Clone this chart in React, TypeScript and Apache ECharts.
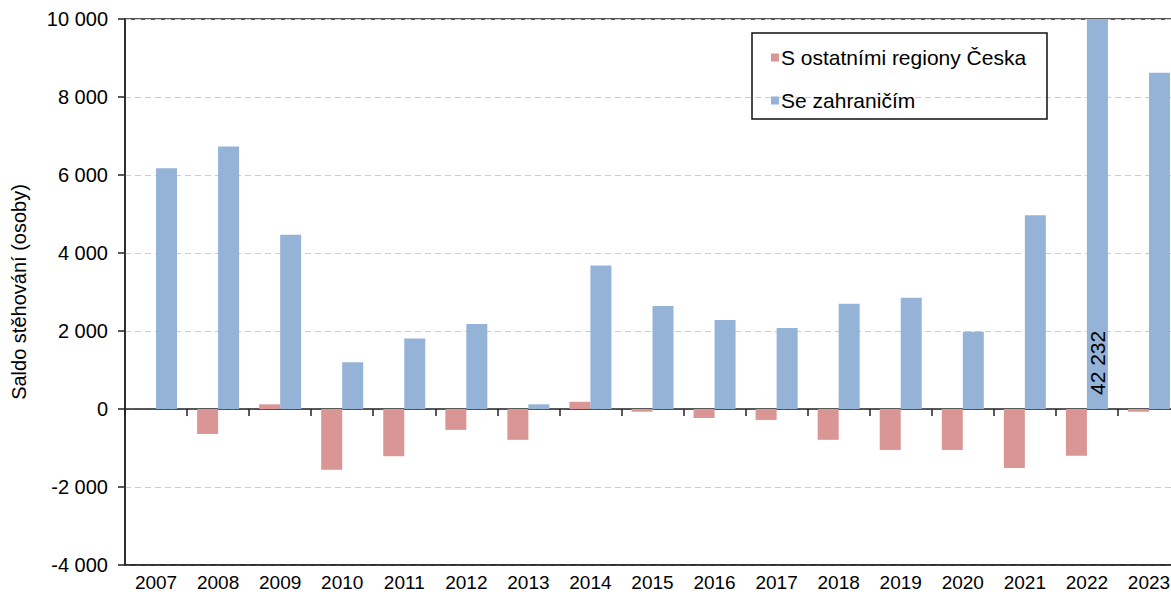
import React, { useEffect, useRef } from "react";
import * as echarts from "echarts";

const years = ["2007","2008","2009","2010","2011","2012","2013","2014","2015","2016","2017","2018","2019","2020","2021","2022","2023"];
const domestic = [0, -640, 120, -1560, -1210, -535, -790, 185, -70, -230, -280, -790, -1050, -1050, -1510, -1200, -70];
const foreign = [6170, 6730, 4470, 1200, 1810, 2180, 120, 3680, 2640, 2280, 2080, 2700, 2850, 1980, 4970, 42232, 8620];
const seriesNames = ["S ostatními regiony Česka", "Se zahraničím"];
const yTicks = { min: -4000, max: 10000, interval: 2000 };
const yAxisTitle = "Saldo stěhování (osoby)";
const labelledIndex = 15;

const FONT = "'Liberation Sans', Arial, sans-serif";
const fmt = (v: number) => {
  const s = Math.abs(Math.round(v)).toString().replace(/\B(?=(\d{3})+(?!\d))/g, " ");
  return (v < 0 ? "-" : "") + s;
};

export default function App() {
  const ref = useRef<HTMLDivElement>(null);
  useEffect(() => {
    document.body.style.margin = "0";
    document.body.style.overflow = "hidden";
    const chart = echarts.init(ref.current!, null, { renderer: "svg" });
    const foreignData = foreign.map((v, i) =>
      i === labelledIndex
        ? {
            value: v,
            label: {
              show: true,
              position: "insideBottom",
              rotate: 90,
              align: "left",
              verticalAlign: "middle",
              distance: 14,
              formatter: (p: any) => fmt(p.value),
              color: "#000",
              fontSize: 21,
              fontFamily: FONT,
            },
          }
        : v
    );
    chart.setOption({
      animation: false,
      textStyle: { fontFamily: FONT },
      grid: {
        left: 125,
        right: 0,
        top: 19,
        bottom: 31,
        show: true,
        borderColor: "#222",
        borderWidth: 1.5,
        containLabel: false,
      },
      legend: {
        orient: "vertical",
        left: 766,
        top: 42,
        itemWidth: 8,
        itemHeight: 8,
        itemGap: 22,
        icon: "rect",
        textStyle: { fontSize: 21, color: "#000", fontFamily: FONT, padding: [0, 0, 0, -3] },
        data: seriesNames,
      },
      graphic: [
        {
          type: "rect",
          shape: { x: 752, y: 33, width: 295, height: 86 },
          style: { fill: "none", stroke: "#111", lineWidth: 1.5 },
          z: 10,
        },
      ],
      xAxis: [
        {
          type: "category",
          data: years,
          axisLine: { onZero: true, lineStyle: { color: "#222", width: 1.5 } },
          axisTick: { show: true, length: 7, lineStyle: { color: "#222", width: 1.5 } },
          axisLabel: { show: false },
          splitLine: { show: false },
        },
        {
          type: "category",
          data: years,
          position: "bottom",
          axisLine: { onZero: false, lineStyle: { color: "#222", width: 1.5 } },
          axisTick: { show: false },
          axisLabel: { show: true, fontSize: 19, color: "#000", margin: 8, fontFamily: FONT },
        },
      ],
      yAxis: {
        type: "value",
        min: yTicks.min,
        max: yTicks.max,
        interval: yTicks.interval,
        name: yAxisTitle,
        nameLocation: "middle",
        nameRotate: 90,
        nameGap: 96,
        nameTextStyle: { fontSize: 20, color: "#000", fontFamily: FONT },
        axisLine: { show: true, lineStyle: { color: "#222", width: 1.5 } },
        axisTick: { show: true, length: 7, lineStyle: { color: "#222", width: 1.5 } },
        axisLabel: {
          fontSize: 20,
          color: "#000",
          margin: 17,
          fontFamily: FONT,
          formatter: (v: number) => fmt(v),
        },
        splitLine: { show: true, lineStyle: { color: "#BCD0EC", type: [6, 4], width: 1 } },
      },
      series: [
        {
          name: seriesNames[0],
          type: "bar",
          data: domestic,
          barWidth: 21,
          barGap: "0%",
          itemStyle: { color: "#D99694" },
          xAxisIndex: 0,
        },
        {
          name: seriesNames[1],
          type: "bar",
          data: foreignData,
          barWidth: 21,
          barGap: "0%",
          clip: true,
          itemStyle: { color: "#95B3D7" },
          xAxisIndex: 0,
        },
      ],
    });
    return () => chart.dispose();
  }, []);
  return <div ref={ref} style={{ width: 1180, height: 596 }} />;
}
